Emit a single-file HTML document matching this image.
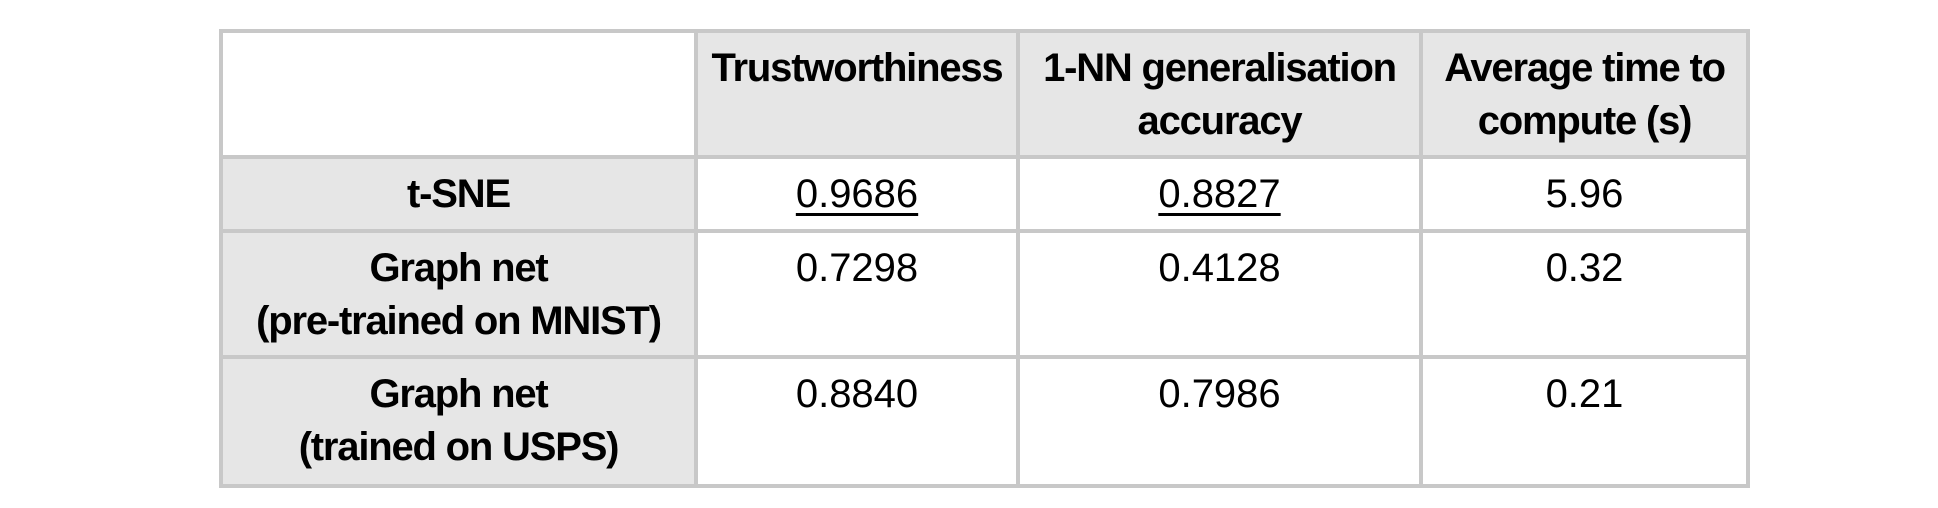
<!DOCTYPE html>
<html><head><meta charset="utf-8">
<style>
html,body{margin:0;padding:0;background:#fff;width:1938px;height:508px;overflow:hidden}
.t{position:absolute;left:0;top:0}
.c{position:absolute;box-sizing:border-box;text-align:center;padding-top:11px;line-height:53px;font-family:"Liberation Sans",sans-serif;font-size:40px;color:#000}
.b{font-weight:bold;letter-spacing:-1.2px}
.g{background:#e6e6e6}
.w{background:#fff}
.u{text-decoration:underline;text-decoration-thickness:3px;text-underline-offset:6px}
.hl{position:absolute;background:#c8c8c8}
</style></head><body>
<div class="t">
<div class="c w" style="left:221px;top:31px;width:475px;height:126px"></div>
<div class="c g b" style="left:696px;top:31px;width:322px;height:126px">Trustworthiness</div>
<div class="c g b" style="left:1018px;top:31px;width:403px;height:126px">1-NN generalisation<br>accuracy</div>
<div class="c g b" style="left:1421px;top:31px;width:327px;height:126px">Average time to<br>compute (s)</div>

<div class="c g b" style="left:221px;top:157px;width:475px;height:74px">t-SNE</div>
<div class="c w" style="left:696px;top:157px;width:322px;height:74px"><span class="u">0.9686</span></div>
<div class="c w" style="left:1018px;top:157px;width:403px;height:74px"><span class="u">0.8827</span></div>
<div class="c w" style="left:1421px;top:157px;width:327px;height:74px">5.96</div>

<div class="c g b" style="left:221px;top:231px;width:475px;height:126px">Graph net<br>(pre-trained on MNIST)</div>
<div class="c w" style="left:696px;top:231px;width:322px;height:126px">0.7298</div>
<div class="c w" style="left:1018px;top:231px;width:403px;height:126px">0.4128</div>
<div class="c w" style="left:1421px;top:231px;width:327px;height:126px">0.32</div>

<div class="c g b" style="left:221px;top:357px;width:475px;height:129px">Graph net<br>(trained on USPS)</div>
<div class="c w" style="left:696px;top:357px;width:322px;height:129px">0.8840</div>
<div class="c w" style="left:1018px;top:357px;width:403px;height:129px">0.7986</div>
<div class="c w" style="left:1421px;top:357px;width:327px;height:129px">0.21</div>

<div class="hl" style="left:219px;top:29px;width:1531px;height:4px"></div>
<div class="hl" style="left:219px;top:155px;width:1531px;height:4px"></div>
<div class="hl" style="left:219px;top:229px;width:1531px;height:4px"></div>
<div class="hl" style="left:219px;top:355px;width:1531px;height:4px"></div>
<div class="hl" style="left:219px;top:484px;width:1531px;height:4px"></div>
<div class="hl" style="left:219px;top:29px;width:4px;height:459px"></div>
<div class="hl" style="left:694px;top:29px;width:4px;height:459px"></div>
<div class="hl" style="left:1016px;top:29px;width:4px;height:459px"></div>
<div class="hl" style="left:1419px;top:29px;width:4px;height:459px"></div>
<div class="hl" style="left:1746px;top:29px;width:4px;height:459px"></div>
</div>
</body></html>
